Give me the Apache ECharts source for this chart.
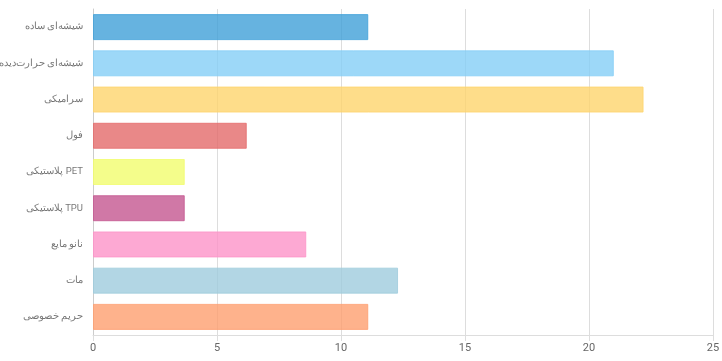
<!DOCTYPE html>
<html><head><meta charset="utf-8">
<script src="https://cdn.jsdelivr.net/npm/echarts@6/dist/echarts.min.js"></script>
<style>html,body{margin:0;padding:0;background:#fff}#c{width:722px;height:361px}</style>
</head><body><div id="c"></div>
<script>
const categories = ['شیشه‌ای ساده','شیشه‌ای حرارت‌دیده','سرامیکی','فول','پلاستیکی PET','پلاستیکی TPU','نانو مایع','مات','حریم خصوصی'];
const values = [11.1, 21, 22.2, 6.2, 3.7, 3.7, 8.6, 12.3, 11.1];
const colors = ['#40a0d8','#84cef6','#fed56d','#e36a6a','#f1fc6e','#c45690','#fc94c8','#9fccdd','#fe9f6f'];
const xTicks = [0, 5, 10, 15, 20, 25];

const chart = echarts.init(document.getElementById('c'), null, {renderer:'canvas'});
chart.setOption({
  animation:false,
  grid:{left:93,right:9,top:9,bottom:26,containLabel:false,outerBoundsMode:'none'},
  xAxis:{type:'value',min:xTicks[0],max:xTicks[xTicks.length-1],interval:5,
    axisLine:{show:true,lineStyle:{color:'#ddd'}},
    axisTick:{show:true,length:6,lineStyle:{color:'#ddd'}},
    splitLine:{show:true,lineStyle:{color:'#ddd'}},
    axisLabel:{color:'#666',fontSize:11,fontFamily:'Roboto',margin:8}},
  yAxis:{type:'category',data:categories,inverse:true,
    axisLine:{show:true,lineStyle:{color:'#ccc'}},
    axisTick:{show:false},
    axisLabel:{show:false}},
  series:[{type:'bar',barWidth:26,
    label:{show:true,position:'left',distance:10,formatter:'{b}',color:'#555',fontSize:9.5,
      fontFamily:'Roboto, "Noto Sans", sans-serif'},
    data:values.map((v,i)=>({value:v,itemStyle:{color:colors[i],opacity:0.8,borderColor:colors[i],borderWidth:1}}))}]
});
</script></body></html>
